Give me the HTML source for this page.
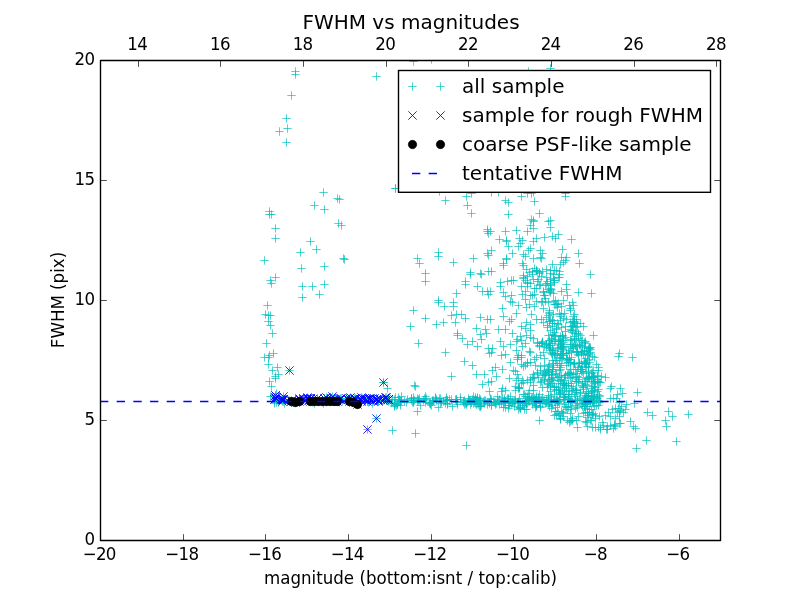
<!DOCTYPE html>
<html><head><meta charset="utf-8"><title>FWHM vs magnitudes</title>
<style>html,body{margin:0;padding:0;background:#fff;}svg{display:block;}</style></head>
<body><svg width="800" height="600" viewBox="0 0 800 600"><rect x="0" y="0" width="800" height="600" fill="#fff"/><defs><clipPath id="ax"><rect x="100" y="60" width="620" height="480"/></clipPath></defs><g clip-path="url(#ax)"><path d="M319.33 403.50h8.33M323.50 399.33v8.33M305.33 401.50h8.33M309.50 397.33v8.33M313.33 401.50h8.33M317.50 397.33v8.33M289.33 402.50h8.33M293.50 398.33v8.33M284.33 400.50h8.33M288.50 396.33v8.33M290.33 401.50h8.33M294.50 397.33v8.33M335.33 399.50h8.33M339.50 395.33v8.33M280.33 403.50h8.33M284.50 399.33v8.33M385.33 400.50h8.33M389.50 396.33v8.33M287.33 401.50h8.33M291.50 397.33v8.33M354.33 401.50h8.33M358.50 397.33v8.33M272.33 402.50h8.33M276.50 398.33v8.33M310.33 403.50h8.33M314.50 399.33v8.33M357.33 400.50h8.33M361.50 396.33v8.33M270.33 403.50h8.33M274.50 399.33v8.33M360.33 400.50h8.33M364.50 396.33v8.33M291.33 402.50h8.33M295.50 398.33v8.33M374.33 401.50h8.33M378.50 397.33v8.33M338.33 401.50h8.33M342.50 397.33v8.33M331.33 400.50h8.33M335.50 396.33v8.33M353.33 402.50h8.33M357.50 398.33v8.33M297.33 399.50h8.33M301.50 395.33v8.33M373.33 401.50h8.33M377.50 397.33v8.33M335.33 402.50h8.33M339.50 398.33v8.33M291.33 400.50h8.33M295.50 396.33v8.33M383.33 400.50h8.33M387.50 396.33v8.33M274.33 402.50h8.33M278.50 398.33v8.33M368.33 403.50h8.33M372.50 399.33v8.33M287.33 401.50h8.33M291.50 397.33v8.33M288.33 402.50h8.33M292.50 398.33v8.33M308.33 402.50h8.33M312.50 398.33v8.33M279.33 401.50h8.33M283.50 397.33v8.33M387.33 402.50h8.33M391.50 398.33v8.33M361.33 400.50h8.33M365.50 396.33v8.33M313.33 400.50h8.33M317.50 396.33v8.33M326.33 399.50h8.33M330.50 395.33v8.33M277.33 400.50h8.33M281.50 396.33v8.33M341.33 400.50h8.33M345.50 396.33v8.33M319.33 401.50h8.33M323.50 397.33v8.33M360.33 401.50h8.33M364.50 397.33v8.33M352.33 400.50h8.33M356.50 396.33v8.33M289.33 401.50h8.33M293.50 397.33v8.33M384.33 401.50h8.33M388.50 397.33v8.33M304.33 401.50h8.33M308.50 397.33v8.33M333.33 401.50h8.33M337.50 397.33v8.33M270.33 401.50h8.33M274.50 397.33v8.33M328.33 401.50h8.33M332.50 397.33v8.33M364.33 402.50h8.33M368.50 398.33v8.33M281.33 400.50h8.33M285.50 396.33v8.33M363.33 401.50h8.33M367.50 397.33v8.33M382.33 400.50h8.33M386.50 396.33v8.33M373.33 401.50h8.33M377.50 397.33v8.33M273.33 400.50h8.33M277.50 396.33v8.33M291.33 402.50h8.33M295.50 398.33v8.33M350.33 400.50h8.33M354.50 396.33v8.33M318.33 401.50h8.33M322.50 397.33v8.33M351.33 401.50h8.33M355.50 397.33v8.33M324.33 401.50h8.33M328.50 397.33v8.33M293.33 400.50h8.33M297.50 396.33v8.33M285.33 400.50h8.33M289.50 396.33v8.33M573.33 400.50h8.33M577.50 396.33v8.33M499.33 402.50h8.33M503.50 398.33v8.33M532.33 399.50h8.33M536.50 395.33v8.33M442.33 397.50h8.33M446.50 393.33v8.33M476.33 399.50h8.33M480.50 395.33v8.33M507.33 403.50h8.33M511.50 399.33v8.33M518.33 403.50h8.33M522.50 399.33v8.33M535.33 402.50h8.33M539.50 398.33v8.33M395.33 401.50h8.33M399.50 397.33v8.33M471.33 397.50h8.33M475.50 393.33v8.33M481.33 400.50h8.33M485.50 396.33v8.33M487.33 405.50h8.33M491.50 401.33v8.33M443.33 403.50h8.33M447.50 399.33v8.33M579.33 401.50h8.33M583.50 397.33v8.33M528.33 397.50h8.33M532.50 393.33v8.33M394.33 397.50h8.33M398.50 393.33v8.33M513.33 402.50h8.33M517.50 398.33v8.33M425.33 403.50h8.33M429.50 399.33v8.33M460.33 404.50h8.33M464.50 400.33v8.33M564.33 398.50h8.33M568.50 394.33v8.33M403.33 399.50h8.33M407.50 395.33v8.33M396.33 405.50h8.33M400.50 401.33v8.33M427.33 405.50h8.33M431.50 401.33v8.33M436.33 403.50h8.33M440.50 399.33v8.33M476.33 402.50h8.33M480.50 398.33v8.33M494.33 401.50h8.33M498.50 397.33v8.33M552.33 400.50h8.33M556.50 396.33v8.33M396.33 402.50h8.33M400.50 398.33v8.33M408.33 402.50h8.33M412.50 398.33v8.33M506.33 402.50h8.33M510.50 398.33v8.33M462.33 403.50h8.33M466.50 399.33v8.33M566.33 400.50h8.33M570.50 396.33v8.33M407.33 398.50h8.33M411.50 394.33v8.33M524.33 400.50h8.33M528.50 396.33v8.33M473.33 397.50h8.33M477.50 393.33v8.33M419.33 400.50h8.33M423.50 396.33v8.33M498.33 397.50h8.33M502.50 393.33v8.33M422.33 398.50h8.33M426.50 394.33v8.33M474.33 404.50h8.33M478.50 400.33v8.33M568.33 401.50h8.33M572.50 397.33v8.33M461.33 402.50h8.33M465.50 398.33v8.33M391.33 397.50h8.33M395.50 393.33v8.33M485.33 403.50h8.33M489.50 399.33v8.33M554.33 401.50h8.33M558.50 397.33v8.33M414.33 400.50h8.33M418.50 396.33v8.33M410.33 400.50h8.33M414.50 396.33v8.33M586.33 402.50h8.33M590.50 398.33v8.33M583.33 402.50h8.33M587.50 398.33v8.33M452.33 401.50h8.33M456.50 397.33v8.33M491.33 402.50h8.33M495.50 398.33v8.33M400.33 401.50h8.33M404.50 397.33v8.33M542.33 402.50h8.33M546.50 398.33v8.33M421.33 399.50h8.33M425.50 395.33v8.33M594.33 400.50h8.33M598.50 396.33v8.33M594.33 405.50h8.33M598.50 401.33v8.33M503.33 398.50h8.33M507.50 394.33v8.33M581.33 400.50h8.33M585.50 396.33v8.33M540.33 400.50h8.33M544.50 396.33v8.33M564.33 402.50h8.33M568.50 398.33v8.33M551.33 401.50h8.33M555.50 397.33v8.33M547.33 400.50h8.33M551.50 396.33v8.33M443.33 400.50h8.33M447.50 396.33v8.33M437.33 402.50h8.33M441.50 398.33v8.33M464.33 400.50h8.33M468.50 396.33v8.33M531.33 399.50h8.33M535.50 395.33v8.33M523.33 398.50h8.33M527.50 394.33v8.33M567.33 402.50h8.33M571.50 398.33v8.33M394.33 400.50h8.33M398.50 396.33v8.33M578.33 403.50h8.33M582.50 399.33v8.33M471.33 399.50h8.33M475.50 395.33v8.33M530.33 400.50h8.33M534.50 396.33v8.33M439.33 401.50h8.33M443.50 397.33v8.33M451.33 399.50h8.33M455.50 395.33v8.33M539.33 400.50h8.33M543.50 396.33v8.33M589.33 398.50h8.33M593.50 394.33v8.33M520.33 403.50h8.33M524.50 399.33v8.33M553.33 399.50h8.33M557.50 395.33v8.33M537.33 399.50h8.33M541.50 395.33v8.33M392.33 405.50h8.33M396.50 401.33v8.33M532.33 399.50h8.33M536.50 395.33v8.33M429.33 400.50h8.33M433.50 396.33v8.33M470.33 400.50h8.33M474.50 396.33v8.33M432.33 399.50h8.33M436.50 395.33v8.33M407.33 400.50h8.33M411.50 396.33v8.33M553.33 401.50h8.33M557.50 397.33v8.33M391.33 404.50h8.33M395.50 400.33v8.33M505.33 402.50h8.33M509.50 398.33v8.33M456.33 397.50h8.33M460.50 393.33v8.33M414.33 399.50h8.33M418.50 395.33v8.33M447.33 399.50h8.33M451.50 395.33v8.33M431.33 398.50h8.33M435.50 394.33v8.33M471.33 403.50h8.33M475.50 399.33v8.33M522.33 400.50h8.33M526.50 396.33v8.33M506.33 396.50h8.33M510.50 392.33v8.33M593.33 398.50h8.33M597.50 394.33v8.33M524.33 401.50h8.33M528.50 397.33v8.33M590.33 399.50h8.33M594.50 395.33v8.33M421.33 396.50h8.33M425.50 392.33v8.33M475.33 400.50h8.33M479.50 396.33v8.33M560.33 397.50h8.33M564.50 393.33v8.33M443.33 400.50h8.33M447.50 396.33v8.33M469.33 403.50h8.33M473.50 399.33v8.33M407.33 398.50h8.33M411.50 394.33v8.33M541.33 403.50h8.33M545.50 399.33v8.33M435.33 398.50h8.33M439.50 394.33v8.33M420.33 398.50h8.33M424.50 394.33v8.33M390.33 403.50h8.33M394.50 399.33v8.33M577.33 404.50h8.33M581.50 400.33v8.33M468.33 399.50h8.33M472.50 395.33v8.33M453.33 404.50h8.33M457.50 400.33v8.33M396.33 401.50h8.33M400.50 397.33v8.33M483.33 404.50h8.33M487.50 400.33v8.33M460.33 400.50h8.33M464.50 396.33v8.33M547.33 402.50h8.33M551.50 398.33v8.33M465.33 400.50h8.33M469.50 396.33v8.33M575.33 398.50h8.33M579.50 394.33v8.33M553.33 402.50h8.33M557.50 398.33v8.33M390.33 403.50h8.33M394.50 399.33v8.33M545.33 401.50h8.33M549.50 397.33v8.33M434.33 407.50h8.33M438.50 403.33v8.33M493.33 396.50h8.33M497.50 392.33v8.33M511.33 401.50h8.33M515.50 397.33v8.33M571.33 400.50h8.33M575.50 396.33v8.33M426.33 402.50h8.33M430.50 398.33v8.33M397.33 400.50h8.33M401.50 396.33v8.33M544.33 397.50h8.33M548.50 393.33v8.33M550.33 401.50h8.33M554.50 397.33v8.33M525.33 401.50h8.33M529.50 397.33v8.33M388.33 399.50h8.33M392.50 395.33v8.33M523.33 403.50h8.33M527.50 399.33v8.33M516.33 407.50h8.33M520.50 403.33v8.33M452.33 399.50h8.33M456.50 395.33v8.33M453.33 402.50h8.33M457.50 398.33v8.33M479.33 401.50h8.33M483.50 397.33v8.33M521.33 401.50h8.33M525.50 397.33v8.33M530.33 402.50h8.33M534.50 398.33v8.33M527.33 399.50h8.33M531.50 395.33v8.33M428.33 401.50h8.33M432.50 397.33v8.33M443.33 404.50h8.33M447.50 400.33v8.33M397.33 396.50h8.33M401.50 392.33v8.33M582.33 404.50h8.33M586.50 400.33v8.33M436.33 398.50h8.33M440.50 394.33v8.33M589.33 401.50h8.33M593.50 397.33v8.33M395.33 399.50h8.33M399.50 395.33v8.33M466.33 400.50h8.33M470.50 396.33v8.33M586.33 400.50h8.33M590.50 396.33v8.33M527.33 398.50h8.33M531.50 394.33v8.33M409.33 400.50h8.33M413.50 396.33v8.33M543.33 401.50h8.33M547.50 397.33v8.33M555.33 400.50h8.33M559.50 396.33v8.33M461.33 403.50h8.33M465.50 399.33v8.33M432.33 400.50h8.33M436.50 396.33v8.33M428.33 400.50h8.33M432.50 396.33v8.33M421.33 402.50h8.33M425.50 398.33v8.33M486.33 398.50h8.33M490.50 394.33v8.33M415.33 400.50h8.33M419.50 396.33v8.33M393.33 404.50h8.33M397.50 400.33v8.33M416.33 405.50h8.33M420.50 401.33v8.33M530.33 398.50h8.33M534.50 394.33v8.33M582.33 400.50h8.33M586.50 396.33v8.33M441.33 400.50h8.33M445.50 396.33v8.33M464.33 398.50h8.33M468.50 394.33v8.33M471.33 401.50h8.33M475.50 397.33v8.33M579.33 402.50h8.33M583.50 398.33v8.33M521.33 403.50h8.33M525.50 399.33v8.33M426.33 404.50h8.33M430.50 400.33v8.33M525.33 397.50h8.33M529.50 393.33v8.33M473.33 398.50h8.33M477.50 394.33v8.33M586.33 400.50h8.33M590.50 396.33v8.33M413.33 398.50h8.33M417.50 394.33v8.33M441.33 403.50h8.33M445.50 399.33v8.33M555.33 403.50h8.33M559.50 399.33v8.33M542.33 399.50h8.33M546.50 395.33v8.33M445.33 399.50h8.33M449.50 395.33v8.33M555.33 399.50h8.33M559.50 395.33v8.33M504.33 398.50h8.33M508.50 394.33v8.33M552.33 399.50h8.33M556.50 395.33v8.33M465.33 400.50h8.33M469.50 396.33v8.33M452.33 399.50h8.33M456.50 395.33v8.33M536.33 406.50h8.33M540.50 402.33v8.33M515.33 398.50h8.33M519.50 394.33v8.33M409.33 402.50h8.33M413.50 398.33v8.33M486.33 399.50h8.33M490.50 395.33v8.33M493.33 400.50h8.33M497.50 396.33v8.33M595.33 402.50h8.33M599.50 398.33v8.33M584.33 400.50h8.33M588.50 396.33v8.33M553.33 402.50h8.33M557.50 398.33v8.33M431.33 397.50h8.33M435.50 393.33v8.33M415.33 398.50h8.33M419.50 394.33v8.33M409.33 397.50h8.33M413.50 393.33v8.33M390.33 406.50h8.33M394.50 402.33v8.33M442.33 399.50h8.33M446.50 395.33v8.33M560.33 399.50h8.33M564.50 395.33v8.33M390.33 405.50h8.33M394.50 401.33v8.33M514.33 401.50h8.33M518.50 397.33v8.33M393.33 404.50h8.33M397.50 400.33v8.33M522.33 403.50h8.33M526.50 399.33v8.33M402.33 402.50h8.33M406.50 398.33v8.33M467.33 402.50h8.33M471.50 398.33v8.33M485.33 402.50h8.33M489.50 398.33v8.33M525.33 399.50h8.33M529.50 395.33v8.33M565.33 399.50h8.33M569.50 395.33v8.33M473.33 403.50h8.33M477.50 399.33v8.33M462.33 404.50h8.33M466.50 400.33v8.33M582.33 400.50h8.33M586.50 396.33v8.33M459.33 401.50h8.33M463.50 397.33v8.33M587.33 396.50h8.33M591.50 392.33v8.33M464.33 401.50h8.33M468.50 397.33v8.33M514.33 402.50h8.33M518.50 398.33v8.33M409.33 401.50h8.33M413.50 397.33v8.33M471.33 399.50h8.33M475.50 395.33v8.33M522.33 403.50h8.33M526.50 399.33v8.33M437.33 401.50h8.33M441.50 397.33v8.33M413.33 401.50h8.33M417.50 397.33v8.33M467.33 402.50h8.33M471.50 398.33v8.33M472.33 400.50h8.33M476.50 396.33v8.33M390.33 399.50h8.33M394.50 395.33v8.33M456.33 399.50h8.33M460.50 395.33v8.33M469.33 400.50h8.33M473.50 396.33v8.33M426.33 403.50h8.33M430.50 399.33v8.33M617.33 406.50h8.33M621.50 402.33v8.33M606.33 398.50h8.33M610.50 394.33v8.33M596.33 401.50h8.33M600.50 397.33v8.33M612.33 398.50h8.33M616.50 394.33v8.33M615.33 402.50h8.33M619.50 398.33v8.33M609.33 398.50h8.33M613.50 394.33v8.33M548.33 323.50h8.33M552.50 319.33v8.33M550.33 332.50h8.33M554.50 328.33v8.33M542.33 344.50h8.33M546.50 340.33v8.33M564.33 385.50h8.33M568.50 381.33v8.33M564.33 362.50h8.33M568.50 358.33v8.33M556.33 345.50h8.33M560.50 341.33v8.33M545.33 381.50h8.33M549.50 377.33v8.33M568.33 377.50h8.33M572.50 373.33v8.33M573.33 326.50h8.33M577.50 322.33v8.33M556.33 344.50h8.33M560.50 340.33v8.33M585.33 347.50h8.33M589.50 343.33v8.33M596.33 382.50h8.33M600.50 378.33v8.33M580.33 361.50h8.33M584.50 357.33v8.33M580.33 346.50h8.33M584.50 342.33v8.33M546.33 386.50h8.33M550.50 382.33v8.33M567.33 394.50h8.33M571.50 390.33v8.33M582.33 364.50h8.33M586.50 360.33v8.33M565.33 373.50h8.33M569.50 369.33v8.33M554.33 347.50h8.33M558.50 343.33v8.33M559.33 383.50h8.33M563.50 379.33v8.33M542.33 347.50h8.33M546.50 343.33v8.33M579.33 354.50h8.33M583.50 350.33v8.33M584.33 395.50h8.33M588.50 391.33v8.33M578.33 371.50h8.33M582.50 367.33v8.33M549.33 365.50h8.33M553.50 361.33v8.33M576.33 335.50h8.33M580.50 331.33v8.33M542.33 372.50h8.33M546.50 368.33v8.33M552.33 387.50h8.33M556.50 383.33v8.33M559.33 346.50h8.33M563.50 342.33v8.33M587.33 381.50h8.33M591.50 377.33v8.33M594.33 389.50h8.33M598.50 385.33v8.33M574.33 338.50h8.33M578.50 334.33v8.33M589.33 377.50h8.33M593.50 373.33v8.33M584.33 393.50h8.33M588.50 389.33v8.33M581.33 395.50h8.33M585.50 391.33v8.33M567.33 330.50h8.33M571.50 326.33v8.33M570.33 394.50h8.33M574.50 390.33v8.33M576.33 345.50h8.33M580.50 341.33v8.33M546.33 330.50h8.33M550.50 326.33v8.33M547.33 375.50h8.33M551.50 371.33v8.33M559.33 353.50h8.33M563.50 349.33v8.33M578.33 347.50h8.33M582.50 343.33v8.33M562.33 353.50h8.33M566.50 349.33v8.33M566.33 329.50h8.33M570.50 325.33v8.33M577.33 363.50h8.33M581.50 359.33v8.33M547.33 396.50h8.33M551.50 392.33v8.33M560.33 380.50h8.33M564.50 376.33v8.33M569.33 364.50h8.33M573.50 360.33v8.33M584.33 378.50h8.33M588.50 374.33v8.33M556.33 357.50h8.33M560.50 353.33v8.33M587.33 388.50h8.33M591.50 384.33v8.33M590.33 382.50h8.33M594.50 378.33v8.33M561.33 375.50h8.33M565.50 371.33v8.33M554.33 324.50h8.33M558.50 320.33v8.33M574.33 379.50h8.33M578.50 375.33v8.33M566.33 322.50h8.33M570.50 318.33v8.33M579.33 389.50h8.33M583.50 385.33v8.33M570.33 363.50h8.33M574.50 359.33v8.33M546.33 345.50h8.33M550.50 341.33v8.33M574.33 382.50h8.33M578.50 378.33v8.33M559.33 384.50h8.33M563.50 380.33v8.33M574.33 363.50h8.33M578.50 359.33v8.33M552.33 374.50h8.33M556.50 370.33v8.33M548.33 352.50h8.33M552.50 348.33v8.33M591.33 387.50h8.33M595.50 383.33v8.33M550.33 389.50h8.33M554.50 385.33v8.33M595.33 395.50h8.33M599.50 391.33v8.33M561.33 337.50h8.33M565.50 333.33v8.33M593.33 375.50h8.33M597.50 371.33v8.33M593.33 376.50h8.33M597.50 372.33v8.33M587.33 391.50h8.33M591.50 387.33v8.33M565.33 391.50h8.33M569.50 387.33v8.33M564.33 394.50h8.33M568.50 390.33v8.33M571.33 369.50h8.33M575.50 365.33v8.33M556.33 320.50h8.33M560.50 316.33v8.33M558.33 340.50h8.33M562.50 336.33v8.33M547.33 339.50h8.33M551.50 335.33v8.33M580.33 397.50h8.33M584.50 393.33v8.33M541.33 375.50h8.33M545.50 371.33v8.33M548.33 334.50h8.33M552.50 330.33v8.33M558.33 391.50h8.33M562.50 387.33v8.33M561.33 397.50h8.33M565.50 393.33v8.33M573.33 352.50h8.33M577.50 348.33v8.33M579.33 386.50h8.33M583.50 382.33v8.33M572.33 392.50h8.33M576.50 388.33v8.33M544.33 335.50h8.33M548.50 331.33v8.33M569.33 374.50h8.33M573.50 370.33v8.33M589.33 377.50h8.33M593.50 373.33v8.33M578.33 366.50h8.33M582.50 362.33v8.33M578.33 351.50h8.33M582.50 347.33v8.33M578.33 385.50h8.33M582.50 381.33v8.33M589.33 376.50h8.33M593.50 372.33v8.33M559.33 355.50h8.33M563.50 351.33v8.33M558.33 335.50h8.33M562.50 331.33v8.33M562.33 385.50h8.33M566.50 381.33v8.33M556.33 392.50h8.33M560.50 388.33v8.33M582.33 378.50h8.33M586.50 374.33v8.33M545.33 364.50h8.33M549.50 360.33v8.33M546.33 350.50h8.33M550.50 346.33v8.33M557.33 327.50h8.33M561.50 323.33v8.33M562.33 353.50h8.33M566.50 349.33v8.33M573.33 346.50h8.33M577.50 342.33v8.33M544.33 345.50h8.33M548.50 341.33v8.33M570.33 321.50h8.33M574.50 317.33v8.33M571.33 327.50h8.33M575.50 323.33v8.33M572.33 381.50h8.33M576.50 377.33v8.33M593.33 381.50h8.33M597.50 377.33v8.33M590.33 397.50h8.33M594.50 393.33v8.33M581.33 367.50h8.33M585.50 363.33v8.33M554.33 341.50h8.33M558.50 337.33v8.33M580.33 350.50h8.33M584.50 346.33v8.33M562.33 359.50h8.33M566.50 355.33v8.33M583.33 385.50h8.33M587.50 381.33v8.33M543.33 327.50h8.33M547.50 323.33v8.33M547.33 378.50h8.33M551.50 374.33v8.33M545.33 379.50h8.33M549.50 375.33v8.33M541.33 373.50h8.33M545.50 369.33v8.33M555.33 370.50h8.33M559.50 366.33v8.33M584.33 371.50h8.33M588.50 367.33v8.33M545.33 321.50h8.33M549.50 317.33v8.33M562.33 390.50h8.33M566.50 386.33v8.33M567.33 340.50h8.33M571.50 336.33v8.33M567.33 383.50h8.33M571.50 379.33v8.33M552.33 329.50h8.33M556.50 325.33v8.33M566.33 344.50h8.33M570.50 340.33v8.33M554.33 387.50h8.33M558.50 383.33v8.33M582.33 391.50h8.33M586.50 387.33v8.33M564.33 396.50h8.33M568.50 392.33v8.33M546.33 385.50h8.33M550.50 381.33v8.33M556.33 341.50h8.33M560.50 337.33v8.33M548.33 383.50h8.33M552.50 379.33v8.33M580.33 381.50h8.33M584.50 377.33v8.33M577.33 340.50h8.33M581.50 336.33v8.33M545.33 340.50h8.33M549.50 336.33v8.33M571.33 345.50h8.33M575.50 341.33v8.33M557.33 346.50h8.33M561.50 342.33v8.33M574.33 333.50h8.33M578.50 329.33v8.33M550.33 386.50h8.33M554.50 382.33v8.33M584.33 348.50h8.33M588.50 344.33v8.33M555.33 365.50h8.33M559.50 361.33v8.33M594.33 381.50h8.33M598.50 377.33v8.33M566.33 369.50h8.33M570.50 365.33v8.33M561.33 375.50h8.33M565.50 371.33v8.33M570.33 322.50h8.33M574.50 318.33v8.33M579.33 387.50h8.33M583.50 383.33v8.33M568.33 332.50h8.33M572.50 328.33v8.33M558.33 335.50h8.33M562.50 331.33v8.33M588.33 377.50h8.33M592.50 373.33v8.33M557.33 343.50h8.33M561.50 339.33v8.33M548.33 354.50h8.33M552.50 350.33v8.33M593.33 391.50h8.33M597.50 387.33v8.33M590.33 396.50h8.33M594.50 392.33v8.33M583.33 360.50h8.33M587.50 356.33v8.33M560.33 388.50h8.33M564.50 384.33v8.33M575.33 345.50h8.33M579.50 341.33v8.33M545.33 321.50h8.33M549.50 317.33v8.33M581.33 343.50h8.33M585.50 339.33v8.33M548.33 343.50h8.33M552.50 339.33v8.33M567.33 386.50h8.33M571.50 382.33v8.33M568.33 330.50h8.33M572.50 326.33v8.33M588.33 372.50h8.33M592.50 368.33v8.33M572.33 390.50h8.33M576.50 386.33v8.33M564.33 350.50h8.33M568.50 346.33v8.33M544.33 374.50h8.33M548.50 370.33v8.33M576.33 393.50h8.33M580.50 389.33v8.33M565.33 352.50h8.33M569.50 348.33v8.33M543.33 383.50h8.33M547.50 379.33v8.33M543.33 369.50h8.33M547.50 365.33v8.33M558.33 353.50h8.33M562.50 349.33v8.33M570.33 340.50h8.33M574.50 336.33v8.33M575.33 362.50h8.33M579.50 358.33v8.33M577.33 371.50h8.33M581.50 367.33v8.33M544.33 395.50h8.33M548.50 391.33v8.33M589.33 381.50h8.33M593.50 377.33v8.33M585.33 359.50h8.33M589.50 355.33v8.33M583.33 396.50h8.33M587.50 392.33v8.33M544.33 370.50h8.33M548.50 366.33v8.33M572.33 390.50h8.33M576.50 386.33v8.33M556.33 336.50h8.33M560.50 332.33v8.33M581.33 381.50h8.33M585.50 377.33v8.33M594.33 370.50h8.33M598.50 366.33v8.33M544.33 384.50h8.33M548.50 380.33v8.33M557.33 363.50h8.33M561.50 359.33v8.33M582.33 396.50h8.33M586.50 392.33v8.33M572.33 331.50h8.33M576.50 327.33v8.33M570.33 363.50h8.33M574.50 359.33v8.33M572.33 323.50h8.33M576.50 319.33v8.33M571.33 333.50h8.33M575.50 329.33v8.33M556.33 351.50h8.33M560.50 347.33v8.33M555.33 340.50h8.33M559.50 336.33v8.33M558.33 358.50h8.33M562.50 354.33v8.33M550.33 323.50h8.33M554.50 319.33v8.33M593.33 381.50h8.33M597.50 377.33v8.33M566.33 372.50h8.33M570.50 368.33v8.33M571.33 377.50h8.33M575.50 373.33v8.33M552.33 390.50h8.33M556.50 386.33v8.33M574.33 367.50h8.33M578.50 363.33v8.33M574.33 354.50h8.33M578.50 350.33v8.33M568.33 326.50h8.33M572.50 322.33v8.33M574.33 334.50h8.33M578.50 330.33v8.33M580.33 351.50h8.33M584.50 347.33v8.33M578.33 340.50h8.33M582.50 336.33v8.33M548.33 371.50h8.33M552.50 367.33v8.33M543.33 387.50h8.33M547.50 383.33v8.33M583.33 379.50h8.33M587.50 375.33v8.33M586.33 352.50h8.33M590.50 348.33v8.33M595.33 382.50h8.33M599.50 378.33v8.33M584.33 393.50h8.33M588.50 389.33v8.33M592.33 364.50h8.33M596.50 360.33v8.33M544.33 366.50h8.33M548.50 362.33v8.33M569.33 321.50h8.33M573.50 317.33v8.33M558.33 383.50h8.33M562.50 379.33v8.33M576.33 392.50h8.33M580.50 388.33v8.33M590.33 383.50h8.33M594.50 379.33v8.33M570.33 363.50h8.33M574.50 359.33v8.33M553.33 348.50h8.33M557.50 344.33v8.33M549.33 350.50h8.33M553.50 346.33v8.33M548.33 369.50h8.33M552.50 365.33v8.33M569.33 347.50h8.33M573.50 343.33v8.33M560.33 394.50h8.33M564.50 390.33v8.33M595.33 396.50h8.33M599.50 392.33v8.33M561.33 326.50h8.33M565.50 322.33v8.33M550.33 387.50h8.33M554.50 383.33v8.33M561.33 331.50h8.33M565.50 327.33v8.33M572.33 352.50h8.33M576.50 348.33v8.33M548.33 349.50h8.33M552.50 345.33v8.33M585.33 362.50h8.33M589.50 358.33v8.33M547.33 353.50h8.33M551.50 349.33v8.33M577.33 352.50h8.33M581.50 348.33v8.33M556.33 383.50h8.33M560.50 379.33v8.33M589.33 370.50h8.33M593.50 366.33v8.33M548.33 377.50h8.33M552.50 373.33v8.33M575.33 377.50h8.33M579.50 373.33v8.33M582.33 363.50h8.33M586.50 359.33v8.33M562.33 385.50h8.33M566.50 381.33v8.33M593.33 394.50h8.33M597.50 390.33v8.33M558.33 336.50h8.33M562.50 332.33v8.33M551.33 373.50h8.33M555.50 369.33v8.33M566.33 362.50h8.33M570.50 358.33v8.33M564.33 362.50h8.33M568.50 358.33v8.33M562.33 365.50h8.33M566.50 361.33v8.33M549.33 335.50h8.33M553.50 331.33v8.33M554.33 380.50h8.33M558.50 376.33v8.33M553.33 363.50h8.33M557.50 359.33v8.33M554.33 389.50h8.33M558.50 385.33v8.33M587.33 395.50h8.33M591.50 391.33v8.33M557.33 347.50h8.33M561.50 343.33v8.33M551.33 336.50h8.33M555.50 332.33v8.33M584.33 354.50h8.33M588.50 350.33v8.33M558.33 348.50h8.33M562.50 344.33v8.33M592.33 397.50h8.33M596.50 393.33v8.33M559.33 340.50h8.33M563.50 336.33v8.33M556.33 381.50h8.33M560.50 377.33v8.33M546.33 345.50h8.33M550.50 341.33v8.33M588.33 386.50h8.33M592.50 382.33v8.33M586.33 349.50h8.33M590.50 345.33v8.33M550.33 341.50h8.33M554.50 337.33v8.33M546.33 391.50h8.33M550.50 387.33v8.33M565.33 359.50h8.33M569.50 355.33v8.33M552.33 360.50h8.33M556.50 356.33v8.33M555.33 393.50h8.33M559.50 389.33v8.33M590.33 376.50h8.33M594.50 372.33v8.33M573.33 376.50h8.33M577.50 372.33v8.33M545.33 348.50h8.33M549.50 344.33v8.33M591.33 381.50h8.33M595.50 377.33v8.33M558.33 349.50h8.33M562.50 345.33v8.33M548.33 320.50h8.33M552.50 316.33v8.33M566.33 362.50h8.33M570.50 358.33v8.33M551.33 341.50h8.33M555.50 337.33v8.33M548.33 320.50h8.33M552.50 316.33v8.33M561.33 385.50h8.33M565.50 381.33v8.33M553.33 353.50h8.33M557.50 349.33v8.33M563.33 360.50h8.33M567.50 356.33v8.33M553.33 323.50h8.33M557.50 319.33v8.33M559.33 396.50h8.33M563.50 392.33v8.33M574.33 355.50h8.33M578.50 351.33v8.33M557.33 375.50h8.33M561.50 371.33v8.33M549.33 367.50h8.33M553.50 363.33v8.33M569.33 325.50h8.33M573.50 321.33v8.33M569.33 346.50h8.33M573.50 342.33v8.33M552.33 328.50h8.33M556.50 324.33v8.33M580.33 363.50h8.33M584.50 359.33v8.33M563.33 374.50h8.33M567.50 370.33v8.33M571.33 389.50h8.33M575.50 385.33v8.33M556.33 355.50h8.33M560.50 351.33v8.33M568.33 348.50h8.33M572.50 344.33v8.33M572.33 381.50h8.33M576.50 377.33v8.33M557.33 379.50h8.33M561.50 375.33v8.33M581.33 341.50h8.33M585.50 337.33v8.33M566.33 339.50h8.33M570.50 335.33v8.33M570.33 336.50h8.33M574.50 332.33v8.33M545.33 340.50h8.33M549.50 336.33v8.33M545.33 343.50h8.33M549.50 339.33v8.33M559.33 344.50h8.33M563.50 340.33v8.33M593.33 379.50h8.33M597.50 375.33v8.33M555.33 390.50h8.33M559.50 386.33v8.33M568.33 321.50h8.33M572.50 317.33v8.33M567.33 326.50h8.33M571.50 322.33v8.33M556.33 394.50h8.33M560.50 390.33v8.33M571.33 396.50h8.33M575.50 392.33v8.33M566.33 346.50h8.33M570.50 342.33v8.33M554.33 339.50h8.33M558.50 335.33v8.33M584.33 366.50h8.33M588.50 362.33v8.33M590.33 357.50h8.33M594.50 353.33v8.33M590.33 390.50h8.33M594.50 386.33v8.33M545.33 372.50h8.33M549.50 368.33v8.33M545.33 347.50h8.33M549.50 343.33v8.33M548.33 369.50h8.33M552.50 365.33v8.33M548.33 326.50h8.33M552.50 322.33v8.33M582.33 372.50h8.33M586.50 368.33v8.33M589.33 390.50h8.33M593.50 386.33v8.33M581.33 384.50h8.33M585.50 380.33v8.33M557.33 355.50h8.33M561.50 351.33v8.33M572.33 351.50h8.33M576.50 347.33v8.33M567.33 357.50h8.33M571.50 353.33v8.33M570.33 323.50h8.33M574.50 319.33v8.33M549.33 380.50h8.33M553.50 376.33v8.33M547.33 338.50h8.33M551.50 334.33v8.33M547.33 379.50h8.33M551.50 375.33v8.33M547.33 374.50h8.33M551.50 370.33v8.33M587.33 409.50h8.33M591.50 405.33v8.33M544.33 404.50h8.33M548.50 400.33v8.33M573.33 403.50h8.33M577.50 399.33v8.33M568.33 420.50h8.33M572.50 416.33v8.33M558.33 413.50h8.33M562.50 409.33v8.33M588.33 402.50h8.33M592.50 398.33v8.33M556.33 418.50h8.33M560.50 414.33v8.33M544.33 401.50h8.33M548.50 397.33v8.33M559.33 412.50h8.33M563.50 408.33v8.33M554.33 401.50h8.33M558.50 397.33v8.33M547.33 408.50h8.33M551.50 404.33v8.33M559.33 399.50h8.33M563.50 395.33v8.33M581.33 403.50h8.33M585.50 399.33v8.33M573.33 400.50h8.33M577.50 396.33v8.33M567.33 420.50h8.33M571.50 416.33v8.33M551.33 411.50h8.33M555.50 407.33v8.33M592.33 405.50h8.33M596.50 401.33v8.33M585.33 400.50h8.33M589.50 396.33v8.33M556.33 419.50h8.33M560.50 415.33v8.33M590.33 406.50h8.33M594.50 402.33v8.33M564.33 407.50h8.33M568.50 403.33v8.33M551.33 407.50h8.33M555.50 403.33v8.33M588.33 414.50h8.33M592.50 410.33v8.33M589.33 413.50h8.33M593.50 409.33v8.33M579.33 413.50h8.33M583.50 409.33v8.33M553.33 411.50h8.33M557.50 407.33v8.33M560.33 404.50h8.33M564.50 400.33v8.33M572.33 405.50h8.33M576.50 401.33v8.33M561.33 406.50h8.33M565.50 402.33v8.33M585.33 412.50h8.33M589.50 408.33v8.33M568.33 418.50h8.33M572.50 414.33v8.33M588.33 414.50h8.33M592.50 410.33v8.33M572.33 420.50h8.33M576.50 416.33v8.33M566.33 421.50h8.33M570.50 417.33v8.33M582.33 403.50h8.33M586.50 399.33v8.33M580.33 406.50h8.33M584.50 402.33v8.33M546.33 401.50h8.33M550.50 397.33v8.33M554.33 413.50h8.33M558.50 409.33v8.33M566.33 402.50h8.33M570.50 398.33v8.33M580.33 406.50h8.33M584.50 402.33v8.33M584.33 399.50h8.33M588.50 395.33v8.33M566.33 406.50h8.33M570.50 402.33v8.33M578.33 406.50h8.33M582.50 402.33v8.33M580.33 399.50h8.33M584.50 395.33v8.33M563.33 420.50h8.33M567.50 416.33v8.33M583.33 406.50h8.33M587.50 402.33v8.33M565.33 422.50h8.33M569.50 418.33v8.33M589.33 403.50h8.33M593.50 399.33v8.33M555.33 415.50h8.33M559.50 411.33v8.33M557.33 411.50h8.33M561.50 407.33v8.33M571.33 408.50h8.33M575.50 404.33v8.33M548.33 405.50h8.33M552.50 401.33v8.33M587.33 420.50h8.33M591.50 416.33v8.33M591.33 415.50h8.33M595.50 411.33v8.33M567.33 409.50h8.33M571.50 405.33v8.33M574.33 416.50h8.33M578.50 412.33v8.33M580.33 406.50h8.33M584.50 402.33v8.33M573.33 399.50h8.33M577.50 395.33v8.33M549.33 399.50h8.33M553.50 395.33v8.33M589.33 401.50h8.33M593.50 397.33v8.33M562.33 407.50h8.33M566.50 403.33v8.33M580.33 400.50h8.33M584.50 396.33v8.33M573.33 407.50h8.33M577.50 403.33v8.33M545.33 406.50h8.33M549.50 402.33v8.33M556.33 418.50h8.33M560.50 414.33v8.33M581.33 398.50h8.33M585.50 394.33v8.33M588.33 400.50h8.33M592.50 396.33v8.33M563.33 409.50h8.33M567.50 405.33v8.33M542.33 401.50h8.33M546.50 397.33v8.33M583.33 417.50h8.33M587.50 413.33v8.33M538.33 397.50h8.33M542.50 393.33v8.33M542.33 344.50h8.33M546.50 340.33v8.33M533.33 372.50h8.33M537.50 368.33v8.33M518.33 380.50h8.33M522.50 376.33v8.33M538.33 342.50h8.33M542.50 338.33v8.33M540.33 346.50h8.33M544.50 342.33v8.33M521.33 365.50h8.33M525.50 361.33v8.33M532.33 357.50h8.33M536.50 353.33v8.33M540.33 380.50h8.33M544.50 376.33v8.33M529.33 390.50h8.33M533.50 386.33v8.33M525.33 351.50h8.33M529.50 347.33v8.33M515.33 388.50h8.33M519.50 384.33v8.33M535.33 345.50h8.33M539.50 341.33v8.33M539.33 374.50h8.33M543.50 370.33v8.33M526.33 362.50h8.33M530.50 358.33v8.33M514.33 355.50h8.33M518.50 351.33v8.33M521.33 396.50h8.33M525.50 392.33v8.33M526.33 352.50h8.33M530.50 348.33v8.33M537.33 381.50h8.33M541.50 377.33v8.33M513.33 374.50h8.33M517.50 370.33v8.33M520.33 394.50h8.33M524.50 390.33v8.33M513.33 359.50h8.33M517.50 355.33v8.33M517.33 364.50h8.33M521.50 360.33v8.33M525.33 390.50h8.33M529.50 386.33v8.33M513.33 357.50h8.33M517.50 353.33v8.33M521.33 328.50h8.33M525.50 324.33v8.33M540.33 371.50h8.33M544.50 367.33v8.33M523.33 362.50h8.33M527.50 358.33v8.33M526.33 324.50h8.33M530.50 320.33v8.33M522.33 322.50h8.33M526.50 318.33v8.33M514.33 387.50h8.33M518.50 383.33v8.33M538.33 343.50h8.33M542.50 339.33v8.33M511.33 390.50h8.33M515.50 386.33v8.33M513.33 339.50h8.33M517.50 335.33v8.33M540.33 365.50h8.33M544.50 361.33v8.33M526.33 382.50h8.33M530.50 378.33v8.33M543.33 325.50h8.33M547.50 321.33v8.33M529.33 374.50h8.33M533.50 370.33v8.33M540.33 358.50h8.33M544.50 354.33v8.33M533.33 343.50h8.33M537.50 339.33v8.33M536.33 366.50h8.33M540.50 362.33v8.33M517.33 383.50h8.33M521.50 379.33v8.33M526.33 330.50h8.33M530.50 326.33v8.33M516.33 336.50h8.33M520.50 332.33v8.33M519.33 394.50h8.33M523.50 390.33v8.33M539.33 322.50h8.33M543.50 318.33v8.33M535.33 346.50h8.33M539.50 342.33v8.33M526.33 379.50h8.33M530.50 375.33v8.33M521.33 343.50h8.33M525.50 339.33v8.33M540.33 379.50h8.33M544.50 375.33v8.33M537.33 343.50h8.33M541.50 339.33v8.33M535.33 394.50h8.33M539.50 390.33v8.33M530.33 377.50h8.33M534.50 373.33v8.33M517.33 357.50h8.33M521.50 353.33v8.33M529.33 378.50h8.33M533.50 374.33v8.33M529.33 338.50h8.33M533.50 334.33v8.33M515.33 387.50h8.33M519.50 383.33v8.33M523.33 396.50h8.33M527.50 392.33v8.33M512.33 380.50h8.33M516.50 376.33v8.33M534.33 377.50h8.33M538.50 373.33v8.33M518.33 294.50h8.33M522.50 290.33v8.33M546.33 283.50h8.33M550.50 279.33v8.33M521.33 299.50h8.33M525.50 295.33v8.33M537.33 319.50h8.33M541.50 315.33v8.33M530.33 288.50h8.33M534.50 284.33v8.33M555.33 274.50h8.33M559.50 270.33v8.33M525.33 272.50h8.33M529.50 268.33v8.33M566.33 308.50h8.33M570.50 304.33v8.33M523.33 282.50h8.33M527.50 278.33v8.33M555.33 271.50h8.33M559.50 267.33v8.33M519.33 277.50h8.33M523.50 273.33v8.33M554.33 303.50h8.33M558.50 299.33v8.33M554.33 277.50h8.33M558.50 273.33v8.33M543.33 281.50h8.33M547.50 277.33v8.33M535.33 285.50h8.33M539.50 281.33v8.33M539.33 308.50h8.33M543.50 304.33v8.33M562.33 319.50h8.33M566.50 315.33v8.33M545.33 291.50h8.33M549.50 287.33v8.33M546.33 288.50h8.33M550.50 284.33v8.33M559.33 318.50h8.33M563.50 314.33v8.33M546.33 292.50h8.33M550.50 288.33v8.33M546.33 270.50h8.33M550.50 266.33v8.33M565.33 305.50h8.33M569.50 301.33v8.33M553.33 304.50h8.33M557.50 300.33v8.33M550.33 280.50h8.33M554.50 276.33v8.33M549.33 301.50h8.33M553.50 297.33v8.33M549.33 278.50h8.33M553.50 274.33v8.33M532.33 270.50h8.33M536.50 266.33v8.33M541.33 298.50h8.33M545.50 294.33v8.33M537.33 302.50h8.33M541.50 298.33v8.33M539.33 292.50h8.33M543.50 288.33v8.33M528.33 295.50h8.33M532.50 291.33v8.33M529.33 279.50h8.33M533.50 275.33v8.33M541.33 301.50h8.33M545.50 297.33v8.33M546.33 279.50h8.33M550.50 275.33v8.33M550.33 304.50h8.33M554.50 300.33v8.33M528.33 274.50h8.33M532.50 270.33v8.33M549.33 293.50h8.33M553.50 289.33v8.33M546.33 284.50h8.33M550.50 280.33v8.33M525.33 304.50h8.33M529.50 300.33v8.33M556.33 316.50h8.33M560.50 312.33v8.33M545.33 312.50h8.33M549.50 308.33v8.33M546.33 319.50h8.33M550.50 315.33v8.33M526.33 283.50h8.33M530.50 279.33v8.33M562.33 289.50h8.33M566.50 285.33v8.33M549.33 314.50h8.33M553.50 310.33v8.33M528.33 271.50h8.33M532.50 267.33v8.33M546.33 290.50h8.33M550.50 286.33v8.33M545.33 310.50h8.33M549.50 306.33v8.33M544.33 315.50h8.33M548.50 311.33v8.33M542.33 283.50h8.33M546.50 279.33v8.33M544.33 302.50h8.33M548.50 298.33v8.33M530.33 306.50h8.33M534.50 302.33v8.33M538.33 271.50h8.33M542.50 267.33v8.33M557.33 314.50h8.33M561.50 310.33v8.33M570.33 319.50h8.33M574.50 315.33v8.33M570.33 314.50h8.33M574.50 310.33v8.33M527.33 314.50h8.33M531.50 310.33v8.33M532.33 270.50h8.33M536.50 266.33v8.33M551.33 304.50h8.33M555.50 300.33v8.33M547.33 289.50h8.33M551.50 285.33v8.33M521.33 291.50h8.33M525.50 287.33v8.33M550.33 280.50h8.33M554.50 276.33v8.33M557.33 291.50h8.33M561.50 287.33v8.33M535.33 272.50h8.33M539.50 268.33v8.33M552.33 270.50h8.33M556.50 266.33v8.33M544.33 289.50h8.33M548.50 285.33v8.33M533.33 281.50h8.33M537.50 277.33v8.33M545.33 313.50h8.33M549.50 309.33v8.33M551.33 300.50h8.33M555.50 296.33v8.33M559.33 300.50h8.33M563.50 296.33v8.33M519.33 275.50h8.33M523.50 271.33v8.33M550.33 270.50h8.33M554.50 266.33v8.33M550.33 282.50h8.33M554.50 278.33v8.33M530.33 294.50h8.33M534.50 290.33v8.33M546.33 285.50h8.33M550.50 281.33v8.33M552.33 304.50h8.33M556.50 300.33v8.33M521.33 280.50h8.33M525.50 276.33v8.33M568.33 302.50h8.33M572.50 298.33v8.33M526.33 295.50h8.33M530.50 291.33v8.33M537.33 276.50h8.33M541.50 272.33v8.33M540.33 295.50h8.33M544.50 291.33v8.33M555.33 313.50h8.33M559.50 309.33v8.33M532.33 319.50h8.33M536.50 315.33v8.33M538.33 301.50h8.33M542.50 297.33v8.33M539.33 291.50h8.33M543.50 287.33v8.33M557.33 306.50h8.33M561.50 302.33v8.33M536.33 284.50h8.33M540.50 280.33v8.33M542.33 317.50h8.33M546.50 313.33v8.33M534.33 279.50h8.33M538.50 275.33v8.33M541.33 285.50h8.33M545.50 281.33v8.33M540.33 295.50h8.33M544.50 291.33v8.33M522.33 307.50h8.33M526.50 303.33v8.33M553.33 307.50h8.33M557.50 303.33v8.33M542.33 277.50h8.33M546.50 273.33v8.33M560.33 313.50h8.33M564.50 309.33v8.33M569.33 305.50h8.33M573.50 301.33v8.33M523.33 283.50h8.33M527.50 279.33v8.33M532.33 288.50h8.33M536.50 284.33v8.33M532.33 301.50h8.33M536.50 297.33v8.33M581.33 412.50h8.33M585.50 408.33v8.33M615.33 416.50h8.33M619.50 412.33v8.33M615.33 411.50h8.33M619.50 407.33v8.33M614.33 408.50h8.33M618.50 404.33v8.33M610.33 424.50h8.33M614.50 420.33v8.33M583.33 412.50h8.33M587.50 408.33v8.33M596.33 427.50h8.33M600.50 423.33v8.33M584.33 415.50h8.33M588.50 411.33v8.33M606.33 416.50h8.33M610.50 412.33v8.33M613.33 412.50h8.33M617.50 408.33v8.33M603.33 426.50h8.33M607.50 422.33v8.33M588.33 427.50h8.33M592.50 423.33v8.33M585.33 409.50h8.33M589.50 405.33v8.33M591.33 418.50h8.33M595.50 414.33v8.33M595.33 416.50h8.33M599.50 412.33v8.33M583.33 412.50h8.33M587.50 408.33v8.33M581.33 408.50h8.33M585.50 404.33v8.33M611.33 418.50h8.33M615.50 414.33v8.33M500.33 403.50h8.33M504.50 399.33v8.33M522.33 403.50h8.33M526.50 399.33v8.33M518.33 405.50h8.33M522.50 401.33v8.33M531.33 403.50h8.33M535.50 399.33v8.33M492.33 403.50h8.33M496.50 399.33v8.33M536.33 407.50h8.33M540.50 403.33v8.33M491.33 404.50h8.33M495.50 400.33v8.33M532.33 405.50h8.33M536.50 401.33v8.33M475.33 406.50h8.33M479.50 402.33v8.33M532.33 403.50h8.33M536.50 399.33v8.33M516.33 408.50h8.33M520.50 404.33v8.33M522.33 409.50h8.33M526.50 405.33v8.33M501.33 407.50h8.33M505.50 403.33v8.33M510.33 406.50h8.33M514.50 402.33v8.33M476.33 406.50h8.33M480.50 402.33v8.33M505.33 405.50h8.33M509.50 401.33v8.33M520.33 409.50h8.33M524.50 405.33v8.33M504.33 405.50h8.33M508.50 401.33v8.33M504.33 408.50h8.33M508.50 404.33v8.33M515.33 407.50h8.33M519.50 403.33v8.33M510.33 403.50h8.33M514.50 399.33v8.33M514.33 409.50h8.33M518.50 405.33v8.33M516.33 408.50h8.33M520.50 404.33v8.33M476.33 406.50h8.33M480.50 402.33v8.33M472.33 404.50h8.33M476.50 400.33v8.33M472.33 400.50h8.33M476.50 396.33v8.33M487.33 405.50h8.33M491.50 401.33v8.33M534.33 398.50h8.33M538.50 394.33v8.33M532.33 396.50h8.33M536.50 392.33v8.33M528.33 404.50h8.33M532.50 400.33v8.33M509.33 401.50h8.33M513.50 397.33v8.33M516.33 402.50h8.33M520.50 398.33v8.33M495.33 399.50h8.33M499.50 395.33v8.33M531.33 401.50h8.33M535.50 397.33v8.33M489.33 401.50h8.33M493.50 397.33v8.33M466.33 404.50h8.33M470.50 400.33v8.33M508.33 401.50h8.33M512.50 397.33v8.33M508.33 402.50h8.33M512.50 398.33v8.33M475.33 398.50h8.33M479.50 394.33v8.33M532.33 405.50h8.33M536.50 401.33v8.33M463.33 402.50h8.33M467.50 398.33v8.33M519.33 405.50h8.33M523.50 401.33v8.33M477.33 405.50h8.33M481.50 401.33v8.33M534.33 397.50h8.33M538.50 393.33v8.33M469.33 396.50h8.33M473.50 392.33v8.33M511.33 399.50h8.33M515.50 395.33v8.33M500.33 398.50h8.33M504.50 394.33v8.33M499.33 407.50h8.33M503.50 403.33v8.33M524.33 393.50h8.33M528.50 389.33v8.33M495.33 404.50h8.33M499.50 400.33v8.33M538.33 403.50h8.33M542.50 399.33v8.33M470.33 402.50h8.33M474.50 398.33v8.33M459.33 402.50h8.33M463.50 398.33v8.33M497.33 403.50h8.33M501.50 399.33v8.33M531.33 407.50h8.33M535.50 403.33v8.33M529.33 397.50h8.33M533.50 393.33v8.33M510.33 400.50h8.33M514.50 396.33v8.33M487.33 399.50h8.33M491.50 395.33v8.33M500.33 400.50h8.33M504.50 396.33v8.33M501.33 401.50h8.33M505.50 397.33v8.33M490.33 402.50h8.33M494.50 398.33v8.33M532.33 406.50h8.33M536.50 402.33v8.33M480.33 400.50h8.33M484.50 396.33v8.33M480.33 403.50h8.33M484.50 399.33v8.33M504.33 399.50h8.33M508.50 395.33v8.33M582.33 351.50h8.33M586.50 347.33v8.33M573.33 369.50h8.33M577.50 365.33v8.33M590.33 386.50h8.33M594.50 382.33v8.33M550.33 354.50h8.33M554.50 350.33v8.33M548.33 360.50h8.33M552.50 356.33v8.33M581.33 358.50h8.33M585.50 354.33v8.33M575.33 344.50h8.33M579.50 340.33v8.33M557.33 354.50h8.33M561.50 350.33v8.33M560.33 377.50h8.33M564.50 373.33v8.33M585.33 353.50h8.33M589.50 349.33v8.33M588.33 356.50h8.33M592.50 352.33v8.33M587.33 377.50h8.33M591.50 373.33v8.33M572.33 381.50h8.33M576.50 377.33v8.33M585.33 348.50h8.33M589.50 344.33v8.33M550.33 394.50h8.33M554.50 390.33v8.33M550.33 335.50h8.33M554.50 331.33v8.33M585.33 376.50h8.33M589.50 372.33v8.33M588.33 392.50h8.33M592.50 388.33v8.33M578.33 383.50h8.33M582.50 379.33v8.33M565.33 359.50h8.33M569.50 355.33v8.33M577.33 353.50h8.33M581.50 349.33v8.33M579.33 387.50h8.33M583.50 383.33v8.33M569.33 388.50h8.33M573.50 384.33v8.33M584.33 350.50h8.33M588.50 346.33v8.33M551.33 353.50h8.33M555.50 349.33v8.33M576.33 369.50h8.33M580.50 365.33v8.33M555.33 376.50h8.33M559.50 372.33v8.33M563.33 358.50h8.33M567.50 354.33v8.33M553.33 377.50h8.33M557.50 373.33v8.33M559.33 347.50h8.33M563.50 343.33v8.33M572.33 373.50h8.33M576.50 369.33v8.33M581.33 362.50h8.33M585.50 358.33v8.33M556.33 367.50h8.33M560.50 363.33v8.33M567.33 374.50h8.33M571.50 370.33v8.33M564.33 373.50h8.33M568.50 369.33v8.33M568.33 344.50h8.33M572.50 340.33v8.33M570.33 338.50h8.33M574.50 334.33v8.33M551.33 360.50h8.33M555.50 356.33v8.33M564.33 383.50h8.33M568.50 379.33v8.33M550.33 355.50h8.33M554.50 351.33v8.33M576.33 369.50h8.33M580.50 365.33v8.33M577.33 369.50h8.33M581.50 365.33v8.33M572.33 339.50h8.33M576.50 335.33v8.33M584.33 367.50h8.33M588.50 363.33v8.33M573.33 351.50h8.33M577.50 347.33v8.33M568.33 390.50h8.33M572.50 386.33v8.33M559.33 342.50h8.33M563.50 338.33v8.33M567.33 351.50h8.33M571.50 347.33v8.33M584.33 377.50h8.33M588.50 373.33v8.33M560.33 385.50h8.33M564.50 381.33v8.33M559.33 338.50h8.33M563.50 334.33v8.33M556.33 369.50h8.33M560.50 365.33v8.33M585.33 378.50h8.33M589.50 374.33v8.33M555.33 358.50h8.33M559.50 354.33v8.33M587.33 373.50h8.33M591.50 369.33v8.33M549.33 363.50h8.33M553.50 359.33v8.33M579.33 373.50h8.33M583.50 369.33v8.33M571.33 345.50h8.33M575.50 341.33v8.33M575.33 363.50h8.33M579.50 359.33v8.33M566.33 378.50h8.33M570.50 374.33v8.33M291.33 71.50h8.33M295.50 67.33v8.33M291.33 74.50h8.33M295.50 70.33v8.33M372.33 76.50h8.33M376.50 72.33v8.33M287.33 95.50h8.33M291.50 91.33v8.33M282.33 118.50h8.33M286.50 114.33v8.33M283.33 128.50h8.33M287.50 124.33v8.33M275.33 131.50h8.33M279.50 127.33v8.33M282.33 142.50h8.33M286.50 138.33v8.33M319.33 192.50h8.33M323.50 188.33v8.33M333.33 198.50h8.33M337.50 194.33v8.33M335.33 199.50h8.33M339.50 195.33v8.33M310.33 205.50h8.33M314.50 201.33v8.33M320.33 209.50h8.33M324.50 205.33v8.33M265.33 211.50h8.33M269.50 207.33v8.33M265.33 214.50h8.33M269.50 210.33v8.33M267.33 214.50h8.33M271.50 210.33v8.33M391.33 188.50h8.33M395.50 184.33v8.33M334.33 223.50h8.33M338.50 219.33v8.33M337.33 225.50h8.33M341.50 221.33v8.33M271.33 228.50h8.33M275.50 224.33v8.33M271.33 238.50h8.33M275.50 234.33v8.33M306.33 241.50h8.33M310.50 237.33v8.33M312.33 249.50h8.33M316.50 245.33v8.33M296.33 252.50h8.33M300.50 248.33v8.33M339.33 258.50h8.33M343.50 254.33v8.33M340.33 259.50h8.33M344.50 255.33v8.33M260.33 260.50h8.33M264.50 256.33v8.33M297.33 268.50h8.33M301.50 264.33v8.33M320.33 266.50h8.33M324.50 262.33v8.33M271.33 277.50h8.33M275.50 273.33v8.33M266.33 280.50h8.33M270.50 276.33v8.33M267.33 283.50h8.33M271.50 279.33v8.33M298.33 286.50h8.33M302.50 282.33v8.33M308.33 286.50h8.33M312.50 282.33v8.33M320.33 284.50h8.33M324.50 280.33v8.33M315.33 294.50h8.33M319.50 290.33v8.33M298.33 297.50h8.33M302.50 293.33v8.33M263.33 305.50h8.33M267.50 301.33v8.33M261.33 314.50h8.33M265.50 310.33v8.33M264.33 315.50h8.33M268.50 311.33v8.33M266.33 315.50h8.33M270.50 311.33v8.33M264.33 321.50h8.33M268.50 317.33v8.33M266.33 325.50h8.33M270.50 321.33v8.33M268.33 333.50h8.33M272.50 329.33v8.33M262.33 343.50h8.33M266.50 339.33v8.33M269.33 353.50h8.33M273.50 349.33v8.33M265.33 355.50h8.33M269.50 351.33v8.33M260.33 357.50h8.33M264.50 353.33v8.33M264.33 357.50h8.33M268.50 353.33v8.33M264.33 364.50h8.33M268.50 360.33v8.33M273.33 367.50h8.33M277.50 363.33v8.33M268.33 370.50h8.33M272.50 366.33v8.33M274.33 374.50h8.33M278.50 370.33v8.33M271.33 376.50h8.33M275.50 372.33v8.33M271.33 378.50h8.33M275.50 374.33v8.33M265.33 381.50h8.33M269.50 377.33v8.33M267.33 386.50h8.33M271.50 382.33v8.33M272.33 393.50h8.33M276.50 389.33v8.33M266.33 396.50h8.33M270.50 392.33v8.33M409.33 61.50h8.33M413.50 57.33v8.33M546.33 68.50h8.33M550.50 64.33v8.33M379.33 382.50h8.33M383.50 378.33v8.33M383.33 388.50h8.33M387.50 384.33v8.33M410.33 385.50h8.33M414.50 381.33v8.33M411.33 386.50h8.33M415.50 382.33v8.33M413.33 411.50h8.33M417.50 407.33v8.33M388.33 430.50h8.33M392.50 426.33v8.33M411.33 433.50h8.33M415.50 429.33v8.33M391.33 188.50h8.33M395.50 184.33v8.33M435.33 191.50h8.33M439.50 187.33v8.33M441.33 200.50h8.33M445.50 196.33v8.33M462.33 196.50h8.33M466.50 192.33v8.33M467.33 193.50h8.33M471.50 189.33v8.33M463.33 205.50h8.33M467.50 201.33v8.33M467.33 213.50h8.33M471.50 209.33v8.33M483.33 229.50h8.33M487.50 225.33v8.33M483.33 231.50h8.33M487.50 227.33v8.33M484.33 233.50h8.33M488.50 229.33v8.33M434.33 252.50h8.33M438.50 248.33v8.33M434.33 256.50h8.33M438.50 252.33v8.33M413.33 258.50h8.33M417.50 254.33v8.33M469.33 258.50h8.33M473.50 254.33v8.33M483.33 253.50h8.33M487.50 249.33v8.33M484.33 255.50h8.33M488.50 251.33v8.33M487.33 192.50h8.33M491.50 188.33v8.33M494.33 192.50h8.33M498.50 188.33v8.33M517.33 196.50h8.33M521.50 192.33v8.33M523.33 193.50h8.33M527.50 189.33v8.33M527.33 193.50h8.33M531.50 189.33v8.33M529.33 192.50h8.33M533.50 188.33v8.33M501.33 200.50h8.33M505.50 196.33v8.33M504.33 202.50h8.33M508.50 198.33v8.33M530.33 201.50h8.33M534.50 197.33v8.33M561.33 196.50h8.33M565.50 192.33v8.33M561.33 193.50h8.33M565.50 189.33v8.33M504.33 214.50h8.33M508.50 210.33v8.33M535.33 213.50h8.33M539.50 209.33v8.33M527.33 219.50h8.33M531.50 215.33v8.33M529.33 221.50h8.33M533.50 217.33v8.33M529.33 220.50h8.33M533.50 216.33v8.33M544.33 221.50h8.33M548.50 217.33v8.33M546.33 220.50h8.33M550.50 216.33v8.33M546.33 227.50h8.33M550.50 223.33v8.33M526.33 225.50h8.33M530.50 221.33v8.33M529.33 228.50h8.33M533.50 224.33v8.33M523.33 231.50h8.33M527.50 227.33v8.33M512.33 230.50h8.33M516.50 226.33v8.33M501.33 231.50h8.33M505.50 227.33v8.33M486.33 231.50h8.33M490.50 227.33v8.33M495.33 239.50h8.33M499.50 235.33v8.33M502.33 240.50h8.33M506.50 236.33v8.33M502.33 241.50h8.33M506.50 237.33v8.33M515.33 238.50h8.33M519.50 234.33v8.33M518.33 240.50h8.33M522.50 236.33v8.33M516.33 243.50h8.33M520.50 239.33v8.33M532.33 238.50h8.33M536.50 234.33v8.33M529.33 241.50h8.33M533.50 237.33v8.33M540.33 237.50h8.33M544.50 233.33v8.33M548.33 236.50h8.33M552.50 232.33v8.33M551.33 238.50h8.33M555.50 234.33v8.33M554.33 234.50h8.33M558.50 230.33v8.33M567.33 239.50h8.33M571.50 235.33v8.33M504.33 246.50h8.33M508.50 242.33v8.33M514.33 246.50h8.33M518.50 242.33v8.33M526.33 248.50h8.33M530.50 244.33v8.33M524.33 250.50h8.33M528.50 246.33v8.33M536.33 250.50h8.33M540.50 246.33v8.33M538.33 253.50h8.33M542.50 249.33v8.33M558.33 249.50h8.33M562.50 245.33v8.33M487.33 250.50h8.33M491.50 246.33v8.33M508.33 253.50h8.33M512.50 249.33v8.33M519.33 254.50h8.33M523.50 250.33v8.33M521.33 256.50h8.33M525.50 252.33v8.33M574.33 253.50h8.33M578.50 249.33v8.33M529.33 258.50h8.33M533.50 254.33v8.33M536.33 257.50h8.33M540.50 253.33v8.33M537.33 258.50h8.33M541.50 254.33v8.33M557.33 257.50h8.33M561.50 253.33v8.33M562.33 257.50h8.33M566.50 253.33v8.33M502.33 258.50h8.33M506.50 254.33v8.33M427.33 59.50h8.33M431.50 55.33v8.33M524.33 71.50h8.33M528.50 67.33v8.33M415.33 263.50h8.33M419.50 259.33v8.33M449.33 262.50h8.33M453.50 258.33v8.33M421.33 273.50h8.33M425.50 269.33v8.33M421.33 281.50h8.33M425.50 277.33v8.33M466.33 272.50h8.33M470.50 268.33v8.33M466.33 274.50h8.33M470.50 270.33v8.33M476.33 273.50h8.33M480.50 269.33v8.33M477.33 274.50h8.33M481.50 270.33v8.33M484.33 271.50h8.33M488.50 267.33v8.33M461.33 281.50h8.33M465.50 277.33v8.33M461.33 284.50h8.33M465.50 280.33v8.33M473.33 286.50h8.33M477.50 282.33v8.33M478.33 291.50h8.33M482.50 287.33v8.33M483.33 291.50h8.33M487.50 287.33v8.33M484.33 294.50h8.33M488.50 290.33v8.33M452.33 293.50h8.33M456.50 289.33v8.33M434.33 300.50h8.33M438.50 296.33v8.33M434.33 302.50h8.33M438.50 298.33v8.33M440.33 306.50h8.33M444.50 302.33v8.33M449.33 302.50h8.33M453.50 298.33v8.33M449.33 306.50h8.33M453.50 302.33v8.33M409.33 310.50h8.33M413.50 306.33v8.33M447.33 315.50h8.33M451.50 311.33v8.33M452.33 314.50h8.33M456.50 310.33v8.33M457.33 314.50h8.33M461.50 310.33v8.33M461.33 318.50h8.33M465.50 314.33v8.33M421.33 318.50h8.33M425.50 314.33v8.33M406.33 326.50h8.33M410.50 322.33v8.33M432.33 324.50h8.33M436.50 320.33v8.33M439.33 322.50h8.33M443.50 318.33v8.33M451.33 322.50h8.33M455.50 318.33v8.33M476.33 317.50h8.33M480.50 313.33v8.33M483.33 319.50h8.33M487.50 315.33v8.33M472.33 328.50h8.33M476.50 324.33v8.33M481.33 329.50h8.33M485.50 325.33v8.33M453.33 333.50h8.33M457.50 329.33v8.33M502.33 259.50h8.33M506.50 255.33v8.33M499.33 263.50h8.33M503.50 259.33v8.33M499.33 265.50h8.33M503.50 261.33v8.33M487.33 271.50h8.33M491.50 267.33v8.33M496.33 282.50h8.33M500.50 278.33v8.33M496.33 286.50h8.33M500.50 282.33v8.33M503.33 281.50h8.33M507.50 277.33v8.33M507.33 280.50h8.33M511.50 276.33v8.33M509.33 280.50h8.33M513.50 276.33v8.33M486.33 291.50h8.33M490.50 287.33v8.33M499.33 292.50h8.33M503.50 288.33v8.33M501.33 296.50h8.33M505.50 292.33v8.33M507.33 295.50h8.33M511.50 291.33v8.33M506.33 301.50h8.33M510.50 297.33v8.33M508.33 302.50h8.33M512.50 298.33v8.33M498.33 308.50h8.33M502.50 304.33v8.33M499.33 316.50h8.33M503.50 312.33v8.33M507.33 319.50h8.33M511.50 315.33v8.33M505.33 321.50h8.33M509.50 317.33v8.33M494.33 329.50h8.33M498.50 325.33v8.33M501.33 329.50h8.33M505.50 325.33v8.33M486.33 319.50h8.33M490.50 315.33v8.33M575.33 263.50h8.33M579.50 259.33v8.33M574.33 292.50h8.33M578.50 288.33v8.33M586.33 274.50h8.33M590.50 270.33v8.33M587.33 293.50h8.33M591.50 289.33v8.33M518.33 263.50h8.33M522.50 259.33v8.33M519.33 265.50h8.33M523.50 261.33v8.33M522.33 269.50h8.33M526.50 265.33v8.33M530.33 268.50h8.33M534.50 264.33v8.33M533.33 271.50h8.33M537.50 267.33v8.33M535.33 273.50h8.33M539.50 269.33v8.33M542.33 269.50h8.33M546.50 265.33v8.33M548.33 264.50h8.33M552.50 260.33v8.33M556.33 264.50h8.33M560.50 260.33v8.33M559.33 262.50h8.33M563.50 258.33v8.33M561.33 260.50h8.33M565.50 256.33v8.33M546.33 273.50h8.33M550.50 269.33v8.33M549.33 274.50h8.33M553.50 270.33v8.33M555.33 277.50h8.33M559.50 273.33v8.33M562.33 284.50h8.33M566.50 280.33v8.33M563.33 295.50h8.33M567.50 291.33v8.33M566.33 310.50h8.33M570.50 306.33v8.33M569.33 316.50h8.33M573.50 312.33v8.33M572.33 319.50h8.33M576.50 315.33v8.33M576.33 323.50h8.33M580.50 319.33v8.33M579.33 326.50h8.33M583.50 322.33v8.33M517.33 286.50h8.33M521.50 282.33v8.33M523.33 286.50h8.33M527.50 282.33v8.33M519.33 278.50h8.33M523.50 274.33v8.33M523.33 276.50h8.33M527.50 272.33v8.33M514.33 305.50h8.33M518.50 301.33v8.33M512.33 313.50h8.33M516.50 309.33v8.33M517.33 326.50h8.33M521.50 322.33v8.33M414.33 343.50h8.33M418.50 339.33v8.33M441.33 352.50h8.33M445.50 348.33v8.33M453.33 335.50h8.33M457.50 331.33v8.33M458.33 338.50h8.33M462.50 334.33v8.33M463.33 344.50h8.33M467.50 340.33v8.33M468.33 341.50h8.33M472.50 337.33v8.33M473.33 346.50h8.33M477.50 342.33v8.33M476.33 334.50h8.33M480.50 330.33v8.33M477.33 339.50h8.33M481.50 335.33v8.33M482.33 333.50h8.33M486.50 329.33v8.33M484.33 348.50h8.33M488.50 344.33v8.33M485.33 353.50h8.33M489.50 349.33v8.33M460.33 361.50h8.33M464.50 357.33v8.33M468.33 365.50h8.33M472.50 361.33v8.33M447.33 376.50h8.33M451.50 372.33v8.33M472.33 374.50h8.33M476.50 370.33v8.33M480.33 374.50h8.33M484.50 370.33v8.33M478.33 384.50h8.33M482.50 380.33v8.33M484.33 382.50h8.33M488.50 378.33v8.33M485.33 391.50h8.33M489.50 387.33v8.33M508.33 333.50h8.33M512.50 329.33v8.33M496.33 341.50h8.33M500.50 337.33v8.33M499.33 346.50h8.33M503.50 342.33v8.33M487.33 352.50h8.33M491.50 348.33v8.33M488.33 348.50h8.33M492.50 344.33v8.33M506.33 344.50h8.33M510.50 340.33v8.33M512.33 341.50h8.33M516.50 337.33v8.33M517.33 340.50h8.33M521.50 336.33v8.33M522.33 335.50h8.33M526.50 331.33v8.33M526.33 337.50h8.33M530.50 333.33v8.33M518.33 346.50h8.33M522.50 342.33v8.33M512.33 350.50h8.33M516.50 346.33v8.33M517.33 355.50h8.33M521.50 351.33v8.33M501.33 354.50h8.33M505.50 350.33v8.33M497.33 355.50h8.33M501.50 351.33v8.33M506.33 362.50h8.33M510.50 358.33v8.33M491.33 367.50h8.33M495.50 363.33v8.33M498.33 369.50h8.33M502.50 365.33v8.33M488.33 370.50h8.33M492.50 366.33v8.33M509.33 370.50h8.33M513.50 366.33v8.33M511.33 371.50h8.33M515.50 367.33v8.33M492.33 376.50h8.33M496.50 372.33v8.33M487.33 381.50h8.33M491.50 377.33v8.33M505.33 378.50h8.33M509.50 374.33v8.33M514.33 378.50h8.33M518.50 374.33v8.33M519.33 366.50h8.33M523.50 362.33v8.33M523.33 363.50h8.33M527.50 359.33v8.33M530.33 359.50h8.33M534.50 355.33v8.33M519.33 382.50h8.33M523.50 378.33v8.33M523.33 380.50h8.33M527.50 376.33v8.33M528.33 377.50h8.33M532.50 373.33v8.33M498.33 388.50h8.33M502.50 384.33v8.33M497.33 391.50h8.33M501.50 387.33v8.33M501.33 390.50h8.33M505.50 386.33v8.33M511.33 386.50h8.33M515.50 382.33v8.33M514.33 388.50h8.33M518.50 384.33v8.33M533.33 342.50h8.33M537.50 338.33v8.33M538.33 341.50h8.33M542.50 337.33v8.33M536.33 355.50h8.33M540.50 351.33v8.33M539.33 352.50h8.33M543.50 348.33v8.33M531.33 365.50h8.33M535.50 361.33v8.33M536.33 370.50h8.33M540.50 366.33v8.33M538.33 375.50h8.33M542.50 371.33v8.33M533.33 373.50h8.33M537.50 369.33v8.33M529.33 385.50h8.33M533.50 381.33v8.33M536.33 382.50h8.33M540.50 378.33v8.33M538.33 387.50h8.33M542.50 383.33v8.33M462.33 445.50h8.33M466.50 441.33v8.33M448.33 406.50h8.33M452.50 402.33v8.33M552.33 414.50h8.33M556.50 410.33v8.33M535.33 420.50h8.33M539.50 416.33v8.33M589.33 335.50h8.33M593.50 331.33v8.33M615.33 353.50h8.33M619.50 349.33v8.33M614.33 356.50h8.33M618.50 352.33v8.33M628.33 357.50h8.33M632.50 353.33v8.33M586.33 347.50h8.33M590.50 343.33v8.33M580.33 342.50h8.33M584.50 338.33v8.33M583.33 355.50h8.33M587.50 351.33v8.33M594.33 367.50h8.33M598.50 363.33v8.33M601.33 377.50h8.33M605.50 373.33v8.33M597.33 376.50h8.33M601.50 372.33v8.33M606.33 388.50h8.33M610.50 384.33v8.33M607.33 386.50h8.33M611.50 382.33v8.33M616.33 388.50h8.33M620.50 384.33v8.33M618.33 393.50h8.33M622.50 389.33v8.33M613.33 394.50h8.33M617.50 390.33v8.33M633.33 392.50h8.33M637.50 388.33v8.33M630.33 403.50h8.33M634.50 399.33v8.33M622.33 404.50h8.33M626.50 400.33v8.33M621.33 409.50h8.33M625.50 405.33v8.33M611.33 408.50h8.33M615.50 404.33v8.33M608.33 409.50h8.33M612.50 405.33v8.33M604.33 412.50h8.33M608.50 408.33v8.33M601.33 415.50h8.33M605.50 411.33v8.33M619.33 412.50h8.33M623.50 408.33v8.33M616.33 410.50h8.33M620.50 406.33v8.33M643.33 412.50h8.33M647.50 408.33v8.33M648.33 415.50h8.33M652.50 411.33v8.33M664.33 411.50h8.33M668.50 407.33v8.33M668.33 416.50h8.33M672.50 412.33v8.33M661.33 420.50h8.33M665.50 416.33v8.33M662.33 426.50h8.33M666.50 422.33v8.33M684.33 414.50h8.33M688.50 410.33v8.33M626.33 421.50h8.33M630.50 417.33v8.33M629.33 426.50h8.33M633.50 422.33v8.33M631.33 428.50h8.33M635.50 424.33v8.33M615.33 423.50h8.33M619.50 419.33v8.33M610.33 425.50h8.33M614.50 421.33v8.33M606.33 425.50h8.33M610.50 421.33v8.33M598.33 422.50h8.33M602.50 418.33v8.33M599.33 425.50h8.33M603.50 421.33v8.33M591.33 427.50h8.33M595.50 423.33v8.33M596.33 429.50h8.33M600.50 425.33v8.33M602.33 429.50h8.33M606.50 425.33v8.33M609.33 428.50h8.33M613.50 424.33v8.33M583.33 426.50h8.33M587.50 422.33v8.33M582.33 422.50h8.33M586.50 418.33v8.33M642.33 440.50h8.33M646.50 436.33v8.33M672.33 441.50h8.33M676.50 437.33v8.33M632.33 448.50h8.33M636.50 444.33v8.33M550.33 415.50h8.33M554.50 411.33v8.33M559.33 416.50h8.33M563.50 412.33v8.33M566.33 413.50h8.33M570.50 409.33v8.33M573.33 427.50h8.33M577.50 423.33v8.33M581.33 421.50h8.33M585.50 417.33v8.33M586.33 420.50h8.33M590.50 416.33v8.33M594.33 427.50h8.33M598.50 423.33v8.33M603.33 429.50h8.33M607.50 425.33v8.33M611.33 426.50h8.33M615.50 422.33v8.33M616.33 423.50h8.33M620.50 419.33v8.33M285.33 370.50h8.33M289.50 366.33v8.33M379.33 382.50h8.33M383.50 378.33v8.33M372.33 418.50h8.33M376.50 414.33v8.33M363.33 429.50h8.33M367.50 425.33v8.33M279.33 399.50h8.33M283.50 395.33v8.33M272.33 398.50h8.33M276.50 394.33v8.33M278.33 399.50h8.33M282.50 395.33v8.33M271.33 395.50h8.33M275.50 391.33v8.33M279.33 396.50h8.33M283.50 392.33v8.33M271.33 397.50h8.33M275.50 393.33v8.33M279.33 399.50h8.33M283.50 395.33v8.33M279.33 399.50h8.33M283.50 395.33v8.33M277.33 399.50h8.33M281.50 395.33v8.33M278.33 401.50h8.33M282.50 397.33v8.33M279.33 399.50h8.33M283.50 395.33v8.33M271.33 395.50h8.33M275.50 391.33v8.33M271.33 398.50h8.33M275.50 394.33v8.33M270.33 399.50h8.33M274.50 395.33v8.33M351.33 399.50h8.33M355.50 395.33v8.33M304.33 398.50h8.33M308.50 394.33v8.33M295.33 398.50h8.33M299.50 394.33v8.33M308.33 399.50h8.33M312.50 395.33v8.33M336.33 399.50h8.33M340.50 395.33v8.33M344.33 399.50h8.33M348.50 395.33v8.33M303.33 398.50h8.33M307.50 394.33v8.33M350.33 398.50h8.33M354.50 394.33v8.33M322.33 397.50h8.33M326.50 393.33v8.33M322.33 400.50h8.33M326.50 396.33v8.33M313.33 398.50h8.33M317.50 394.33v8.33M308.33 399.50h8.33M312.50 395.33v8.33M287.33 400.50h8.33M291.50 396.33v8.33M346.33 397.50h8.33M350.50 393.33v8.33M320.33 398.50h8.33M324.50 394.33v8.33M295.33 399.50h8.33M299.50 395.33v8.33M306.33 398.50h8.33M310.50 394.33v8.33M299.33 399.50h8.33M303.50 395.33v8.33M323.33 398.50h8.33M327.50 394.33v8.33M327.33 398.50h8.33M331.50 394.33v8.33M351.33 398.50h8.33M355.50 394.33v8.33M303.33 397.50h8.33M307.50 393.33v8.33M337.33 398.50h8.33M341.50 394.33v8.33M305.33 400.50h8.33M309.50 396.33v8.33M299.33 398.50h8.33M303.50 394.33v8.33M306.33 398.50h8.33M310.50 394.33v8.33M336.33 398.50h8.33M340.50 394.33v8.33M351.33 399.50h8.33M355.50 395.33v8.33M348.33 399.50h8.33M352.50 395.33v8.33M313.33 398.50h8.33M317.50 394.33v8.33M328.33 396.50h8.33M332.50 392.33v8.33M304.33 400.50h8.33M308.50 396.33v8.33M345.33 398.50h8.33M349.50 394.33v8.33M342.33 398.50h8.33M346.50 394.33v8.33M335.33 399.50h8.33M339.50 395.33v8.33M360.33 398.50h8.33M364.50 394.33v8.33M369.33 401.50h8.33M373.50 397.33v8.33M365.33 398.50h8.33M369.50 394.33v8.33M374.33 401.50h8.33M378.50 397.33v8.33M372.33 399.50h8.33M376.50 395.33v8.33M367.33 399.50h8.33M371.50 395.33v8.33M362.33 399.50h8.33M366.50 395.33v8.33M368.33 398.50h8.33M372.50 394.33v8.33M376.33 399.50h8.33M380.50 395.33v8.33M356.33 399.50h8.33M360.50 395.33v8.33M361.33 400.50h8.33M365.50 396.33v8.33M379.33 400.50h8.33M383.50 396.33v8.33M365.33 399.50h8.33M369.50 395.33v8.33M380.33 399.50h8.33M384.50 395.33v8.33M382.33 397.50h8.33M386.50 393.33v8.33M358.33 398.50h8.33M362.50 394.33v8.33M384.33 399.50h8.33M388.50 395.33v8.33M357.33 401.50h8.33M361.50 397.33v8.33M357.33 397.50h8.33M361.50 393.33v8.33M381.33 397.50h8.33M385.50 393.33v8.33M369.33 399.50h8.33M373.50 395.33v8.33M384.33 399.50h8.33M388.50 395.33v8.33M374.33 400.50h8.33M378.50 396.33v8.33M384.33 399.50h8.33M388.50 395.33v8.33M363.33 401.50h8.33M367.50 397.33v8.33M366.33 398.50h8.33M370.50 394.33v8.33M370.33 398.50h8.33M374.50 394.33v8.33M382.33 399.50h8.33M386.50 395.33v8.33M373.33 399.50h8.33M377.50 395.33v8.33M357.33 399.50h8.33M361.50 395.33v8.33M287.33 401.50h8.33M291.50 397.33v8.33M291.33 402.50h8.33M295.50 398.33v8.33M295.33 401.50h8.33M299.50 397.33v8.33M306.33 401.50h8.33M310.50 397.33v8.33M310.33 401.50h8.33M314.50 397.33v8.33M314.33 401.50h8.33M318.50 397.33v8.33M318.33 401.50h8.33M322.50 397.33v8.33M322.33 401.50h8.33M326.50 397.33v8.33M326.33 401.50h8.33M330.50 397.33v8.33M330.33 401.50h8.33M334.50 397.33v8.33M333.33 401.50h8.33M337.50 397.33v8.33M345.33 401.50h8.33M349.50 397.33v8.33M349.33 402.50h8.33M353.50 398.33v8.33M353.33 404.50h8.33M357.50 400.33v8.33" stroke="#00bfbf" stroke-width="0.69" fill="none"/><path d="M285.33 366.33l8.33 8.33M285.33 374.67l8.33 -8.33M379.33 378.33l8.33 8.33M379.33 386.67l8.33 -8.33M372.33 414.33l8.33 8.33M372.33 422.67l8.33 -8.33M363.33 425.33l8.33 8.33M363.33 433.67l8.33 -8.33M279.33 395.33l8.33 8.33M279.33 403.67l8.33 -8.33M272.33 394.33l8.33 8.33M272.33 402.67l8.33 -8.33M278.33 395.33l8.33 8.33M278.33 403.67l8.33 -8.33M271.33 391.33l8.33 8.33M271.33 399.67l8.33 -8.33M279.33 392.33l8.33 8.33M279.33 400.67l8.33 -8.33M271.33 393.33l8.33 8.33M271.33 401.67l8.33 -8.33M279.33 395.33l8.33 8.33M279.33 403.67l8.33 -8.33M279.33 395.33l8.33 8.33M279.33 403.67l8.33 -8.33M277.33 395.33l8.33 8.33M277.33 403.67l8.33 -8.33M278.33 397.33l8.33 8.33M278.33 405.67l8.33 -8.33M279.33 395.33l8.33 8.33M279.33 403.67l8.33 -8.33M271.33 391.33l8.33 8.33M271.33 399.67l8.33 -8.33M271.33 394.33l8.33 8.33M271.33 402.67l8.33 -8.33M270.33 395.33l8.33 8.33M270.33 403.67l8.33 -8.33M351.33 395.33l8.33 8.33M351.33 403.67l8.33 -8.33M304.33 394.33l8.33 8.33M304.33 402.67l8.33 -8.33M295.33 394.33l8.33 8.33M295.33 402.67l8.33 -8.33M308.33 395.33l8.33 8.33M308.33 403.67l8.33 -8.33M336.33 395.33l8.33 8.33M336.33 403.67l8.33 -8.33M344.33 395.33l8.33 8.33M344.33 403.67l8.33 -8.33M303.33 394.33l8.33 8.33M303.33 402.67l8.33 -8.33M350.33 394.33l8.33 8.33M350.33 402.67l8.33 -8.33M322.33 393.33l8.33 8.33M322.33 401.67l8.33 -8.33M322.33 396.33l8.33 8.33M322.33 404.67l8.33 -8.33M313.33 394.33l8.33 8.33M313.33 402.67l8.33 -8.33M308.33 395.33l8.33 8.33M308.33 403.67l8.33 -8.33M287.33 396.33l8.33 8.33M287.33 404.67l8.33 -8.33M346.33 393.33l8.33 8.33M346.33 401.67l8.33 -8.33M320.33 394.33l8.33 8.33M320.33 402.67l8.33 -8.33M295.33 395.33l8.33 8.33M295.33 403.67l8.33 -8.33M306.33 394.33l8.33 8.33M306.33 402.67l8.33 -8.33M299.33 395.33l8.33 8.33M299.33 403.67l8.33 -8.33M323.33 394.33l8.33 8.33M323.33 402.67l8.33 -8.33M327.33 394.33l8.33 8.33M327.33 402.67l8.33 -8.33M351.33 394.33l8.33 8.33M351.33 402.67l8.33 -8.33M303.33 393.33l8.33 8.33M303.33 401.67l8.33 -8.33M337.33 394.33l8.33 8.33M337.33 402.67l8.33 -8.33M305.33 396.33l8.33 8.33M305.33 404.67l8.33 -8.33M299.33 394.33l8.33 8.33M299.33 402.67l8.33 -8.33M306.33 394.33l8.33 8.33M306.33 402.67l8.33 -8.33M336.33 394.33l8.33 8.33M336.33 402.67l8.33 -8.33M351.33 395.33l8.33 8.33M351.33 403.67l8.33 -8.33M348.33 395.33l8.33 8.33M348.33 403.67l8.33 -8.33M313.33 394.33l8.33 8.33M313.33 402.67l8.33 -8.33M328.33 392.33l8.33 8.33M328.33 400.67l8.33 -8.33M304.33 396.33l8.33 8.33M304.33 404.67l8.33 -8.33M345.33 394.33l8.33 8.33M345.33 402.67l8.33 -8.33M342.33 394.33l8.33 8.33M342.33 402.67l8.33 -8.33M335.33 395.33l8.33 8.33M335.33 403.67l8.33 -8.33M360.33 394.33l8.33 8.33M360.33 402.67l8.33 -8.33M369.33 397.33l8.33 8.33M369.33 405.67l8.33 -8.33M365.33 394.33l8.33 8.33M365.33 402.67l8.33 -8.33M374.33 397.33l8.33 8.33M374.33 405.67l8.33 -8.33M372.33 395.33l8.33 8.33M372.33 403.67l8.33 -8.33M367.33 395.33l8.33 8.33M367.33 403.67l8.33 -8.33M362.33 395.33l8.33 8.33M362.33 403.67l8.33 -8.33M368.33 394.33l8.33 8.33M368.33 402.67l8.33 -8.33M376.33 395.33l8.33 8.33M376.33 403.67l8.33 -8.33M356.33 395.33l8.33 8.33M356.33 403.67l8.33 -8.33M361.33 396.33l8.33 8.33M361.33 404.67l8.33 -8.33M379.33 396.33l8.33 8.33M379.33 404.67l8.33 -8.33M365.33 395.33l8.33 8.33M365.33 403.67l8.33 -8.33M380.33 395.33l8.33 8.33M380.33 403.67l8.33 -8.33M382.33 393.33l8.33 8.33M382.33 401.67l8.33 -8.33M358.33 394.33l8.33 8.33M358.33 402.67l8.33 -8.33M384.33 395.33l8.33 8.33M384.33 403.67l8.33 -8.33M357.33 397.33l8.33 8.33M357.33 405.67l8.33 -8.33M357.33 393.33l8.33 8.33M357.33 401.67l8.33 -8.33M381.33 393.33l8.33 8.33M381.33 401.67l8.33 -8.33M369.33 395.33l8.33 8.33M369.33 403.67l8.33 -8.33M384.33 395.33l8.33 8.33M384.33 403.67l8.33 -8.33M374.33 396.33l8.33 8.33M374.33 404.67l8.33 -8.33M384.33 395.33l8.33 8.33M384.33 403.67l8.33 -8.33M363.33 397.33l8.33 8.33M363.33 405.67l8.33 -8.33M366.33 394.33l8.33 8.33M366.33 402.67l8.33 -8.33M370.33 394.33l8.33 8.33M370.33 402.67l8.33 -8.33M382.33 395.33l8.33 8.33M382.33 403.67l8.33 -8.33M373.33 395.33l8.33 8.33M373.33 403.67l8.33 -8.33M357.33 395.33l8.33 8.33M357.33 403.67l8.33 -8.33M287.33 397.33l8.33 8.33M287.33 405.67l8.33 -8.33M291.33 398.33l8.33 8.33M291.33 406.67l8.33 -8.33M295.33 397.33l8.33 8.33M295.33 405.67l8.33 -8.33M306.33 397.33l8.33 8.33M306.33 405.67l8.33 -8.33M310.33 397.33l8.33 8.33M310.33 405.67l8.33 -8.33M314.33 397.33l8.33 8.33M314.33 405.67l8.33 -8.33M318.33 397.33l8.33 8.33M318.33 405.67l8.33 -8.33M322.33 397.33l8.33 8.33M322.33 405.67l8.33 -8.33M326.33 397.33l8.33 8.33M326.33 405.67l8.33 -8.33M330.33 397.33l8.33 8.33M330.33 405.67l8.33 -8.33M333.33 397.33l8.33 8.33M333.33 405.67l8.33 -8.33M345.33 397.33l8.33 8.33M345.33 405.67l8.33 -8.33M349.33 398.33l8.33 8.33M349.33 406.67l8.33 -8.33M353.33 400.33l8.33 8.33M353.33 408.67l8.33 -8.33" stroke="#0000ff" stroke-width="0.85" fill="none"/><g fill="#000" stroke="#000" stroke-width="0.69"><circle cx="291.5" cy="401.5" r="4.17"/><circle cx="295.5" cy="402.5" r="4.17"/><circle cx="299.5" cy="401.5" r="4.17"/><circle cx="310.5" cy="401.5" r="4.17"/><circle cx="314.5" cy="401.5" r="4.17"/><circle cx="318.5" cy="401.5" r="4.17"/><circle cx="322.5" cy="401.5" r="4.17"/><circle cx="326.5" cy="401.5" r="4.17"/><circle cx="330.5" cy="401.5" r="4.17"/><circle cx="334.5" cy="401.5" r="4.17"/><circle cx="337.5" cy="401.5" r="4.17"/><circle cx="349.5" cy="401.5" r="4.17"/><circle cx="353.5" cy="402.5" r="4.17"/><circle cx="357.5" cy="404.5" r="4.17"/></g><path d="M100 401.5H720" stroke="#0000ff" stroke-width="1.39" stroke-dasharray="8.338 8.338" fill="none"/></g><path d="M100.5 540.5v-6.3M183.5 540.5v-6.3M265.5 540.5v-6.3M348.5 540.5v-6.3M431.5 540.5v-6.3M513.5 540.5v-6.3M596.5 540.5v-6.3M679.5 540.5v-6.3M138.5 60.5v6.3M220.5 60.5v6.3M303.5 60.5v6.3M386.5 60.5v6.3M468.5 60.5v6.3M551.5 60.5v6.3M634.5 60.5v6.3M716.5 60.5v6.3M100.5 540.5h6.3M720.5 540.5h-6.3M100.5 420.5h6.3M720.5 420.5h-6.3M100.5 300.5h6.3M720.5 300.5h-6.3M100.5 180.5h6.3M720.5 180.5h-6.3M100.5 60.5h6.3M720.5 60.5h-6.3" stroke="#000" stroke-width="0.69" fill="none"/><rect x="100.5" y="60.5" width="620" height="480" fill="none" stroke="#000" stroke-width="1.39" stroke-linejoin="round"/><rect x="398.5" y="70.5" width="312.0" height="121.80000000000001" fill="#fff" stroke="#000" stroke-width="1.39"/><path d="M408.33 86.50h8.33M412.50 82.33v8.33M436.33 86.50h8.33M440.50 82.33v8.33" stroke="#00bfbf" stroke-width="0.69" fill="none"/><path d="M408.33 111.33l8.33 8.33M408.33 119.67l8.33 -8.33M436.33 111.33l8.33 8.33M436.33 119.67l8.33 -8.33" stroke="#0000ff" stroke-width="0.85" fill="none"/><g fill="#000" stroke="#000" stroke-width="0.69"><circle cx="412.5" cy="144.5" r="4.17"/><circle cx="440.5" cy="144.5" r="4.17"/></g><path d="M412.0 173.5H440.0" stroke="#0000ff" stroke-width="1.39" stroke-dasharray="8.338 8.338" fill="none"/><text x="462" y="92.5" font-size="20" style="font-family:'DejaVu Sans','Liberation Sans',sans-serif">all sample</text><text x="462" y="122.3" font-size="20" style="font-family:'DejaVu Sans','Liberation Sans',sans-serif">sample for rough FWHM</text><text x="462" y="151.4" font-size="20" style="font-family:'DejaVu Sans','Liberation Sans',sans-serif">coarse PSF-like sample</text><text x="462" y="179.9" font-size="20" style="font-family:'DejaVu Sans','Liberation Sans',sans-serif">tentative FWHM</text><text transform="translate(99.20 560) scale(1 1.075)" font-size="16.67" text-anchor="middle" letter-spacing="-0.7" style="font-family:'DejaVu Sans','Liberation Sans',sans-serif">−20</text><text transform="translate(181.87 560) scale(1 1.075)" font-size="16.67" text-anchor="middle" letter-spacing="-0.7" style="font-family:'DejaVu Sans','Liberation Sans',sans-serif">−18</text><text transform="translate(264.53 560) scale(1 1.075)" font-size="16.67" text-anchor="middle" letter-spacing="-0.7" style="font-family:'DejaVu Sans','Liberation Sans',sans-serif">−16</text><text transform="translate(347.20 560) scale(1 1.075)" font-size="16.67" text-anchor="middle" letter-spacing="-0.7" style="font-family:'DejaVu Sans','Liberation Sans',sans-serif">−14</text><text transform="translate(429.87 560) scale(1 1.075)" font-size="16.67" text-anchor="middle" letter-spacing="-0.7" style="font-family:'DejaVu Sans','Liberation Sans',sans-serif">−12</text><text transform="translate(512.53 560) scale(1 1.075)" font-size="16.67" text-anchor="middle" letter-spacing="-0.7" style="font-family:'DejaVu Sans','Liberation Sans',sans-serif">−10</text><text transform="translate(595.20 560) scale(1 1.075)" font-size="16.67" text-anchor="middle" letter-spacing="-0.7" style="font-family:'DejaVu Sans','Liberation Sans',sans-serif">−8</text><text transform="translate(677.87 560) scale(1 1.075)" font-size="16.67" text-anchor="middle" letter-spacing="-0.7" style="font-family:'DejaVu Sans','Liberation Sans',sans-serif">−6</text><text transform="translate(137.23 49.5) scale(1 1.075)" font-size="16.67" text-anchor="middle" letter-spacing="-0.7" style="font-family:'DejaVu Sans','Liberation Sans',sans-serif">14</text><text transform="translate(219.89 49.5) scale(1 1.075)" font-size="16.67" text-anchor="middle" letter-spacing="-0.7" style="font-family:'DejaVu Sans','Liberation Sans',sans-serif">16</text><text transform="translate(302.56 49.5) scale(1 1.075)" font-size="16.67" text-anchor="middle" letter-spacing="-0.7" style="font-family:'DejaVu Sans','Liberation Sans',sans-serif">18</text><text transform="translate(385.23 49.5) scale(1 1.075)" font-size="16.67" text-anchor="middle" letter-spacing="-0.7" style="font-family:'DejaVu Sans','Liberation Sans',sans-serif">20</text><text transform="translate(467.89 49.5) scale(1 1.075)" font-size="16.67" text-anchor="middle" letter-spacing="-0.7" style="font-family:'DejaVu Sans','Liberation Sans',sans-serif">22</text><text transform="translate(550.56 49.5) scale(1 1.075)" font-size="16.67" text-anchor="middle" letter-spacing="-0.7" style="font-family:'DejaVu Sans','Liberation Sans',sans-serif">24</text><text transform="translate(633.23 49.5) scale(1 1.075)" font-size="16.67" text-anchor="middle" letter-spacing="-0.7" style="font-family:'DejaVu Sans','Liberation Sans',sans-serif">26</text><text transform="translate(715.89 49.5) scale(1 1.075)" font-size="16.67" text-anchor="middle" letter-spacing="-0.7" style="font-family:'DejaVu Sans','Liberation Sans',sans-serif">28</text><text transform="translate(94.4 544.90) scale(1 1.075)" font-size="16.67" text-anchor="end" letter-spacing="-0.7" style="font-family:'DejaVu Sans','Liberation Sans',sans-serif">0</text><text transform="translate(94.4 424.90) scale(1 1.075)" font-size="16.67" text-anchor="end" letter-spacing="-0.7" style="font-family:'DejaVu Sans','Liberation Sans',sans-serif">5</text><text transform="translate(94.4 304.90) scale(1 1.075)" font-size="16.67" text-anchor="end" letter-spacing="-0.7" style="font-family:'DejaVu Sans','Liberation Sans',sans-serif">10</text><text transform="translate(94.4 184.90) scale(1 1.075)" font-size="16.67" text-anchor="end" letter-spacing="-0.7" style="font-family:'DejaVu Sans','Liberation Sans',sans-serif">15</text><text transform="translate(94.4 64.90) scale(1 1.075)" font-size="16.67" text-anchor="end" letter-spacing="-0.7" style="font-family:'DejaVu Sans','Liberation Sans',sans-serif">20</text><text x="411" y="29" font-size="20" text-anchor="middle" style="font-family:'DejaVu Sans','Liberation Sans',sans-serif">FWHM vs magnitudes</text><text transform="translate(410.5 583.6) scale(1 1.1)" font-size="16.67" text-anchor="middle" style="font-family:'DejaVu Sans','Liberation Sans',sans-serif">magnitude (bottom:isnt / top:calib)</text><text x="0" y="0" font-size="16.67" text-anchor="middle" transform="translate(64.4 300) rotate(-90) scale(1 1.08)" style="font-family:'DejaVu Sans','Liberation Sans',sans-serif">FWHM (pix)</text></svg></body></html>
